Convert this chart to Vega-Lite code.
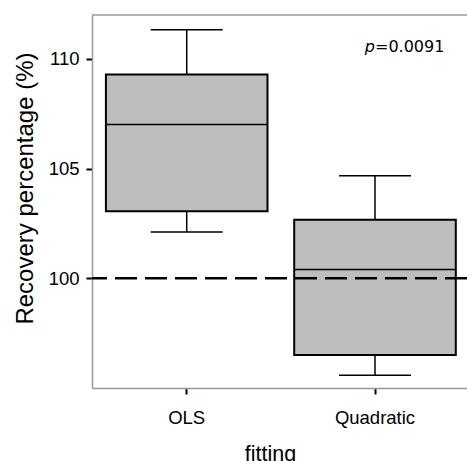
{
  "$schema": "https://vega.github.io/schema/vega-lite/v6.json",
  "autosize": {"type": "none"},
  "padding": {"left": 92, "top": 15, "right": 0, "bottom": 73},
  "width": 375,
  "height": 373,
  "background": "white",
  "config": {
    "view": {"stroke": null},
    "font": "Liberation Sans"
  },
  "datasets": {
    "stats": [
      {"fitting": "OLS", "lower": 102.11, "q1": 103.05, "median": 107.01, "q3": 109.29, "upper": 111.33},
      {"fitting": "Quadratic", "lower": 95.58, "q1": 96.5, "median": 100.4, "q3": 102.67, "upper": 104.67}
    ],
    "ref": [{"value": 100}],
    "frame": [{"value": 112}],
    "label": [{"fitting": "Quadratic", "y": 110.3, "p": "p", "rest": "=0.0091"}]
  },
  "layer": [
    {
      "data": {"name": "stats"},
      "mark": {"type": "rule", "color": "black", "strokeWidth": 1.5},
      "encoding": {
        "x": {
          "field": "fitting", "type": "nominal", "sort": null,
          "scale": {"paddingInner": 0.1418, "paddingOuter": 0.0667, "align": 0.554},
          "axis": {
            "title": "fitting", "titleFontSize": 21.5, "titleFontWeight": "normal", "titleColor": "black",
            "titleX": 178, "titleY": 55, "titleBaseline": "top",
            "labelFontSize": 18.5, "labelColor": "black", "labelAngle": 0, "labelPadding": 14,
            "tickSize": 6, "tickWidth": 2, "tickColor": "black",
            "domainColor": "#999999", "domainWidth": 1.5, "grid": false
          }
        },
        "y": {
          "field": "lower", "type": "quantitative",
          "scale": {"domain": [95, 112], "nice": false, "zero": false},
          "axis": {
            "title": "Recovery percentage (%)", "titleFontSize": 24, "titleFontWeight": "normal", "titleColor": "black",
            "titleX": -55, "titleY": 173,
            "values": [100, 105, 110],
            "labelFontSize": 18.5, "labelColor": "black", "labelPadding": 7,
            "tickSize": 6, "tickWidth": 2, "tickColor": "black",
            "domainColor": "#999999", "domainWidth": 1.5, "grid": false
          }
        },
        "y2": {"field": "upper"}
      }
    },
    {
      "data": {"name": "stats"},
      "mark": {"type": "bar", "fill": "#bebebe", "stroke": "black", "strokeWidth": 2},
      "encoding": {
        "x": {"field": "fitting", "type": "nominal", "sort": null},
        "y": {"field": "q1", "type": "quantitative"},
        "y2": {"field": "q3"}
      }
    },
    {
      "data": {"name": "stats"},
      "mark": {"type": "tick", "color": "black", "size": 161, "thickness": 1.5, "opacity": 1},
      "encoding": {
        "x": {"field": "fitting", "type": "nominal", "sort": null},
        "y": {"field": "median", "type": "quantitative"}
      }
    },
    {
      "data": {"name": "stats"},
      "mark": {"type": "tick", "color": "black", "size": 72, "thickness": 1.5, "opacity": 1},
      "encoding": {
        "x": {"field": "fitting", "type": "nominal", "sort": null},
        "y": {"field": "lower", "type": "quantitative"}
      }
    },
    {
      "data": {"name": "stats"},
      "mark": {"type": "tick", "color": "black", "size": 72, "thickness": 1.5, "opacity": 1},
      "encoding": {
        "x": {"field": "fitting", "type": "nominal", "sort": null},
        "y": {"field": "upper", "type": "quantitative"}
      }
    },
    {
      "data": {"name": "ref"},
      "mark": {"type": "rule", "color": "black", "strokeWidth": 2.5, "strokeDash": [22, 8]},
      "encoding": {
        "y": {"field": "value", "type": "quantitative"}
      }
    },
    {
      "data": {"name": "frame"},
      "mark": {"type": "rule", "color": "#999999", "strokeWidth": 1.5},
      "encoding": {
        "y": {"field": "value", "type": "quantitative"}
      }
    },
    {
      "data": {"name": "label"},
      "mark": {"type": "text", "font": "DejaVu Sans", "fontSize": 16, "fontStyle": "italic", "align": "right", "baseline": "alphabetic", "color": "black"},
      "encoding": {
        "x": {"field": "fitting", "type": "nominal", "sort": null},
        "y": {"field": "y", "type": "quantitative"},
        "text": {"field": "p"}
      }
    },
    {
      "data": {"name": "label"},
      "mark": {"type": "text", "font": "DejaVu Sans", "fontSize": 16, "align": "left", "baseline": "alphabetic", "color": "black"},
      "encoding": {
        "x": {"field": "fitting", "type": "nominal", "sort": null},
        "y": {"field": "y", "type": "quantitative"},
        "text": {"field": "rest"}
      }
    }
  ]
}
